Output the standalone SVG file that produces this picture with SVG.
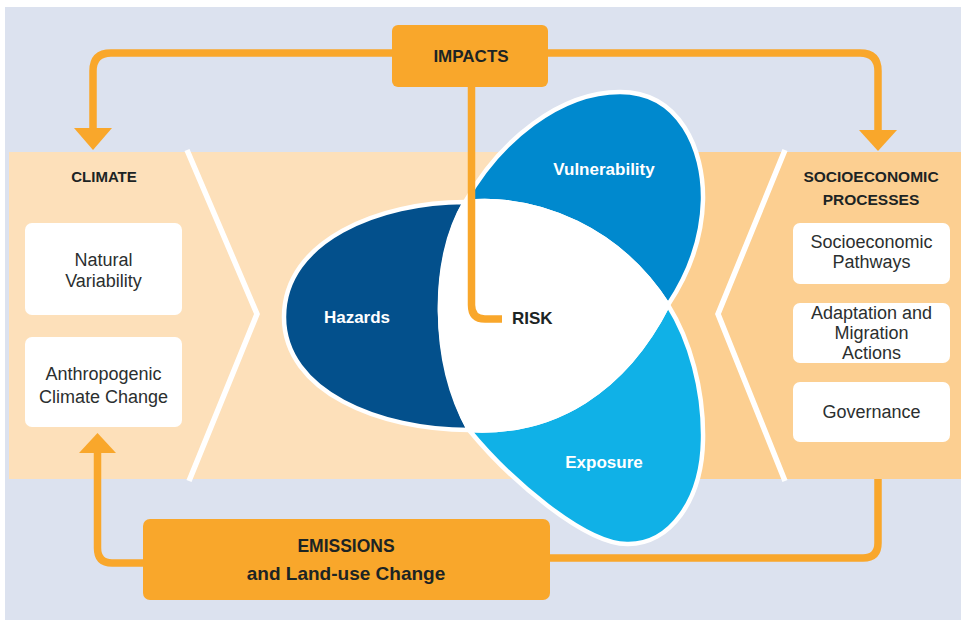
<svg xmlns="http://www.w3.org/2000/svg" width="961" height="620" viewBox="0 0 961 620">
<style>
.hdr{font-family:"Liberation Sans",Arial,sans-serif;font-weight:bold;fill:#1c2424;text-anchor:middle}
.box{fill:#ffffff}
.btxt{font-family:"Liberation Sans",Arial,sans-serif;font-size:18px;fill:#2b2f2f;text-anchor:middle}
.wtxt{font-family:"Liberation Sans",Arial,sans-serif;font-weight:bold;fill:#ffffff;text-anchor:middle}
.orange{fill:#F9A72B}
.conn{fill:none;stroke:#F9A72B;stroke-width:7.5}
.chev{fill:none;stroke:#ffffff;stroke-width:5.5}
.blob{stroke:#ffffff;stroke-width:4.5;stroke-linejoin:round}
</style>
<rect x="0" y="0" width="961" height="620" fill="#ffffff"/>
<rect x="5" y="7" width="956" height="613" fill="#DCE2EF"/>
<g id="band">
<rect x="9" y="152" width="600" height="327" fill="#FDE0BA"/>
<rect x="600" y="152" width="361" height="327" fill="#FCCF91"/>
<polyline class="chev" points="187,150 257,314 189,481"/>
<polyline class="chev" points="785,150 718,314 785,481"/>
</g>
<g id="climate">
<text class="hdr" x="104" y="182" font-size="15">CLIMATE</text>
</g>
<g id="natural-variability">
<rect class="box" x="25" y="223" width="157" height="92" rx="7"/>
<text class="btxt" x="103.5" y="266">Natural</text>
<text class="btxt" x="103.5" y="287">Variability</text>
</g>
<g id="anthropogenic">
<rect class="box" x="25" y="337" width="157" height="90" rx="7"/>
<text class="btxt" x="103.5" y="380">Anthropogenic</text>
<text class="btxt" x="103.5" y="403">Climate Change</text>
</g>
<g id="socioeconomic">
<text class="hdr" x="871" y="182" font-size="15.5">SOCIOECONOMIC</text>
<text class="hdr" x="871" y="205" font-size="15.5">PROCESSES</text>
</g>
<g id="pathways">
<rect class="box" x="793" y="223" width="157" height="61" rx="7"/>
<text class="btxt" x="871.5" y="248">Socioeconomic</text>
<text class="btxt" x="871.5" y="268">Pathways</text>
</g>
<g id="adaptation">
<rect class="box" x="793" y="303" width="157" height="60" rx="7"/>
<text class="btxt" x="871.5" y="319">Adaptation and</text>
<text class="btxt" x="871.5" y="339">Migration</text>
<text class="btxt" x="871.5" y="359">Actions</text>
</g>
<g id="governance">
<rect class="box" x="793" y="382" width="157" height="60" rx="7"/>
<text class="btxt" x="871.5" y="418">Governance</text>
</g>
<g id="hazards">
<path class="blob" fill="#03508C" d="M465,202 C380,202 284,240 284,317 C284,392 380,430 469,430 C430,360 432,260 465,202 Z"/>
<text class="wtxt" x="357" y="323" font-size="17">Hazards</text>
</g>
<g id="vulnerability">
<path class="blob" fill="#0089CE" d="M465,202 C500,140 560,92 620,92 C680,92 704,150 703,200 C702,240 688,275 668,305 C620,230 540,195 465,202 Z"/>
<text class="wtxt" x="604" y="175" font-size="17">Vulnerability</text>
</g>
<g id="exposure">
<path class="blob" fill="#10B1E7" d="M668,305 C690,340 704,390 703,440 C702,500 670,545 627,544 C585,544 510,480 469,430 C555,435 625,390 668,305 Z"/>
<text class="wtxt" x="604" y="468" font-size="17">Exposure</text>
</g>
<g id="risk">
<path class="blob" fill="#ffffff" d="M465,202 C540,195 620,230 668,305 C625,390 555,435 469,430 C432,360 430,260 465,202 Z"/>
</g>
<g id="connectors">
<path class="conn" d="M392,53 H111 Q93,53 93,71 V129"/>
<polygon class="orange" points="74,128 112,128 93,150"/>
<path class="conn" d="M548,53 H860 Q878,53 878,71 V131"/>
<polygon class="orange" points="859,130 897,130 878,151"/>
<path class="conn" d="M471.5,87 V305 Q471.5,319 485,319 H502"/>
<path class="conn" d="M143,563 H112 Q97.5,563 97.5,548 V452"/>
<polygon class="orange" points="79,453 116,453 97.5,433"/>
<path class="conn" d="M550,558 H863 Q878,558 878,543 V479"/>
</g>
<g id="risk-label">
<text class="hdr" x="512" y="324" font-size="17" style="text-anchor:start">RISK</text>
</g>
<g id="impacts">
<rect class="orange" x="392" y="25" width="156" height="62" rx="6"/>
<text class="hdr" x="471" y="62" font-size="17">IMPACTS</text>
</g>
<g id="emissions">
<rect class="orange" x="143" y="519" width="407" height="81" rx="7"/>
<text class="hdr" x="346" y="552" font-size="17.5">EMISSIONS</text>
<text class="hdr" x="346" y="580" font-size="19">and Land-use Change</text>
</g>
</svg>
